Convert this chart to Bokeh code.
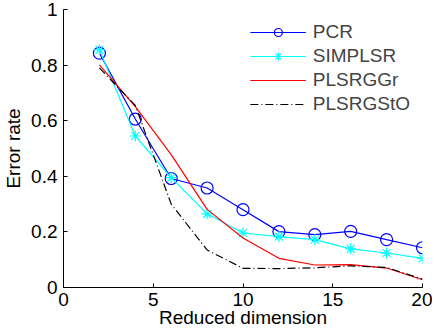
from bokeh.plotting import figure
from bokeh.models import FixedTicker, CustomJSTickFormatter, Range1d
from bokeh.embed import file_html
from bokeh.resources import INLINE

x = [2, 4, 6, 8, 10, 12, 14, 16, 18, 20]
pcr = [0.843, 0.606, 0.392, 0.358, 0.280, 0.201, 0.190, 0.202, 0.172, 0.143]
simplsr = [0.855, 0.545, 0.395, 0.265, 0.196, 0.183, 0.172, 0.139, 0.124, 0.105]
plsrggr = [0.801, 0.651, 0.478, 0.281, 0.178, 0.105, 0.081, 0.082, 0.070, 0.028]
plsrgsto = [0.790, 0.655, 0.300, 0.135, 0.069, 0.068, 0.071, 0.078, 0.072, 0.030]

x_ticks = [0, 5, 10, 15, 20]
y_ticks = [0, 0.2, 0.4, 0.6, 0.8, 1]
x_label = "Reduced dimension"
y_label = "Error rate"

FONT = "Liberation Sans"
FS = "19px"

p = figure(width=432, height=330, output_backend="svg", toolbar_location=None,
           x_range=Range1d(0, 20), y_range=Range1d(0, 1),
           min_border_left=55, min_border_right=10, min_border_top=9, min_border_bottom=10)
p.outline_line_color = None
p.xgrid.visible = False
p.ygrid.visible = False
p.background_fill_color = "white"

p.line(x, pcr, line_color="#0000ff", line_width=1.2, legend_label="PCR")
p.scatter(x, pcr, marker="circle", size=12, line_color="#0000ff", fill_color=None,
          line_width=1.2, legend_label="PCR")
p.line(x, simplsr, line_color="#00ffff", line_width=1.2, legend_label="SIMPLSR")
p.scatter(x, simplsr, marker="asterisk", size=11, line_color="#00ffff",
          line_width=1.2, legend_label="SIMPLSR")
p.line(x, plsrggr, line_color="#ff0000", line_width=1.2, legend_label="PLSRGGr")
p.line(x, plsrgsto, line_color="black", line_width=1.2, line_dash="8 3 1 3",
       legend_label="PLSRGStO")

for ax in (p.xaxis[0], p.yaxis[0]):
    ax.major_tick_in = 4
    ax.major_tick_out = 0
    ax.minor_tick_in = 0
    ax.minor_tick_out = 0
    ax.major_label_text_font = FONT
    ax.major_label_text_font_size = FS
    ax.major_label_text_color = "black"
    ax.axis_label_text_font = FONT
    ax.axis_label_text_font_size = FS
    ax.axis_label_text_font_style = "normal"
    ax.axis_label_text_color = "black"
    ax.axis_line_color = "black"
    ax.major_tick_line_color = "black"

p.xaxis[0].ticker = FixedTicker(ticks=x_ticks)
p.yaxis[0].ticker = FixedTicker(ticks=y_ticks)
p.yaxis[0].formatter = CustomJSTickFormatter(code="return String(Math.round(tick*10)/10)")
p.xaxis[0].axis_label = x_label
p.yaxis[0].axis_label = y_label
p.xaxis[0].major_label_standoff = 5
p.xaxis[0].axis_label_standoff = -2
p.yaxis[0].major_label_standoff = 6
p.yaxis[0].axis_label_standoff = 4

lg = p.legend[0]
lg.location = "top_right"
lg.border_line_color = None
lg.background_fill_alpha = 0
lg.label_text_font = FONT
lg.label_text_font_size = FS
lg.glyph_width = 56
lg.glyph_height = 20
lg.label_height = 20
lg.spacing = 2
lg.padding = 0
lg.margin = 12
lg.label_standoff = 7

open("out.html", "w").write(file_html(p, INLINE))
